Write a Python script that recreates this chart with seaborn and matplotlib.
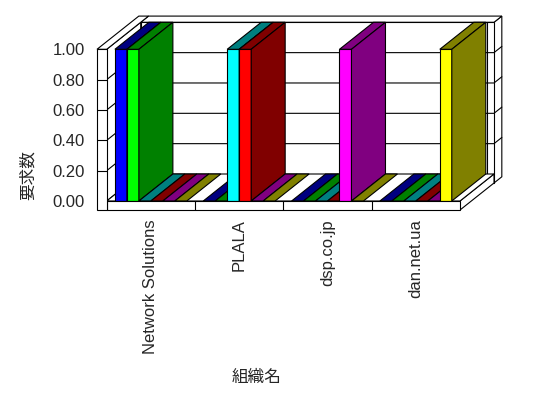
import matplotlib
matplotlib.use("Agg")
import matplotlib.pyplot as plt
import matplotlib.colors as mcolors
from matplotlib.patches import Polygon, Rectangle
from matplotlib.lines import Line2D
from matplotlib.transforms import IdentityTransform
import seaborn as sns
import pandas as pd

# ---------------- data ----------------
categories = ["Network Solutions", "PLALA", "dsp.co.jp", "dan.net.ua"]
series_names = ["系列1", "系列2", "系列3", "系列4", "系列5", "系列6"]
s1 = [1.0, 0.0, 0.0, 0.0]
s2 = [1.0, 0.0, 0.0, 0.0]
s3 = [0.0, 1.0, 0.0, 0.0]
s4 = [0.0, 1.0, 0.0, 0.0]
s5 = [0.0, 0.0, 1.0, 0.0]
s6 = [0.0, 0.0, 0.0, 1.0]
series_values = [s1, s2, s3, s4, s5, s6]
yticks = [0.0, 0.2, 0.4, 0.6, 0.8, 1.0]
ytick_labels = ["0.00", "0.20", "0.40", "0.60", "0.80", "1.00"]
xlabel = "組織名"
ylabel = "要求数"

front_colors = ["#0000ff", "#00ff00", "#00ffff", "#ff0000", "#ff00ff", "#ffff00"]
dark_colors = ["#000080", "#008000", "#008080", "#800000", "#800080", "#808000"]

rows = []
for name, vals in zip(series_names, series_values):
    for c, v in zip(categories, vals):
        rows.append({"cat": c, "val": v, "series": name})
df = pd.DataFrame(rows)

# ---------------- figure ----------------
sns.set_style("white")
plt.rcParams["font.family"] = ["Liberation Sans", "Noto Sans CJK JP", "DejaVu Sans"]

W, H = 548, 398
fig = plt.figure(figsize=(W / 100, H / 100), dpi=100)
fig.patch.set_facecolor("white")
ax_left, ax_right, ax_top, ax_bot = 106.7, 460.0, 49.3, 201.0
ax = fig.add_axes([ax_left / W, (H - ax_bot) / H, (ax_right - ax_left) / W, (ax_bot - ax_top) / H])
ax.set_facecolor("none")

sns.barplot(data=df, x="cat", y="val", hue="series", order=categories,
            hue_order=series_names, palette=front_colors, saturation=1,
            width=0.814, edgecolor="black", linewidth=0.8, legend=False,
            errorbar=None, ax=ax)
ax.set_xlim(-0.5, 3.5)
ax.set_ylim(0, 1)
for sp in ax.spines.values():
    sp.set_visible(False)
ax.set_xlabel("")
ax.set_ylabel("")
ax.set_yticks(yticks, ytick_labels)
ax.tick_params(axis="y", length=0, pad=15.6, labelsize=12)
ax.tick_params(axis="x", length=0, pad=13.0, labelsize=12, labelrotation=90)
ax.grid(False)

bars = sorted([p for p in ax.patches if isinstance(p, Rectangle)], key=lambda p: p.get_x())

# pseudo-3D geometry (pixel offsets)
DX, DY = 34.0, 27.0   # depth of plot box
T = 0.23              # wall thickness (fraction of depth)
WL = 9.7              # left wall thickness
B = 9.0               # base thickness
LW = 0.8
IDT = IdentityTransform()


def P(x, y, z=0.0, px=0.0, py=0.0):
    X, Y = ax.transData.transform((x, y))
    return (X + z * DX + px, Y + z * DY + py)


def poly(pts, fc, zo, lw=LW):
    ax.add_patch(Polygon(pts, closed=True, facecolor=fc, edgecolor="black",
                         linewidth=lw, transform=IDT, clip_on=False, zorder=zo))


def line(pts, zo, lw=LW):
    xs = [p[0] for p in pts]
    ys = [p[1] for p in pts]
    ax.add_line(Line2D(xs, ys, color="black", linewidth=lw, transform=IDT,
                       clip_on=False, zorder=zo))


x0, x1 = -0.5, 3.5
grid_levels = yticks[1:-1]

# back wall
poly([P(x1, 0, 1, 0, -B), P(x1, 0, 1 + T, 0, -B), P(x1, 1, 1 + T), P(x1, 1, 1)], "white", 1)
poly([P(x0, 1, 1), P(x1, 1, 1), P(x1, 1, 1 + T), P(x0, 1, 1 + T)], "white", 1)
poly([P(x0, 0, 1, 0, -B), P(x1, 0, 1, 0, -B), P(x1, 1, 1), P(x0, 1, 1)], "white", 1)
for yv in grid_levels:
    line([P(x0, yv, 1), P(x1, yv, 1), P(x1, yv, 1 + T)], 2)
line([P(x1, 0, 1, -7.3), P(x1, 1, 1, -7.3)], 2)

# left wall inner face + top
poly([P(x0, 0, 0), P(x0, 0, 1), P(x0, 1, 1), P(x0, 1, 0)], "white", 3)
for yv in grid_levels:
    line([P(x0, yv, 0), P(x0, yv, 1)], 3)
poly([P(x0, 1, 0, -WL), P(x0, 1, 0), P(x0, 1, 1), P(x0, 1, 1 + T), P(x0, 1, 1 + T, -WL)], "white", 3)

# base right face and floor
poly([P(x1, 0, 0), P(x1, 0, 0, 0, -B), P(x1, 0, 1, 0, -B), P(x1, 0, 1)], "white", 4)
poly([P(x0, 0, 0), P(x1, 0, 0), P(x1, 0, 1), P(x0, 0, 1)], "white", 5)

# bars: front faces from seaborn, top and side faces derived from them
front_to_dark = {mcolors.to_hex(f): d for f, d in zip(front_colors, dark_colors)}
for i, b in enumerate(bars):
    bx, bw, bh = b.get_x(), b.get_width(), b.get_height()
    dark = front_to_dark.get(mcolors.to_hex(b.get_facecolor()), "#808080")
    base_z = 10 + 3 * i
    b.set_zorder(base_z + 1)
    b.set_clip_on(False)
    poly([P(bx, bh, 0), P(bx + bw, bh, 0), P(bx + bw, bh, 1), P(bx, bh, 1)], dark, base_z + 2)
    if bh > 0:
        poly([P(bx + bw, 0, 0), P(bx + bw, bh, 0), P(bx + bw, bh, 1), P(bx + bw, 0, 1)], dark, base_z + 2)

# front of base and left wall
poly([P(x0, 0, 0, 0, -B), P(x1, 0, 0, 0, -B), P(x1, 0, 0), P(x0, 0, 0)], "white", 200)
for k in range(1, len(categories)):
    line([P(k - 0.5, 0, 0), P(k - 0.5, 0, 0, 0, -B)], 201)
poly([P(x0, 0, 0, -WL, -B), P(x0, 0, 0, 0, -B), P(x0, 1, 0), P(x0, 1, 0, -WL)], "white", 200)
for yv in grid_levels:
    line([P(x0, yv, 0, -WL), P(x0, yv, 0)], 201)

# axis titles
fig.text(257 / W, 1 - 377 / H, xlabel, ha="center", va="center", fontsize=12)
fig.text(28 / W, 1 - 175 / H, ylabel, ha="center", va="center", fontsize=12, rotation=90)

fig.savefig("out.png", dpi=100, facecolor="white")
